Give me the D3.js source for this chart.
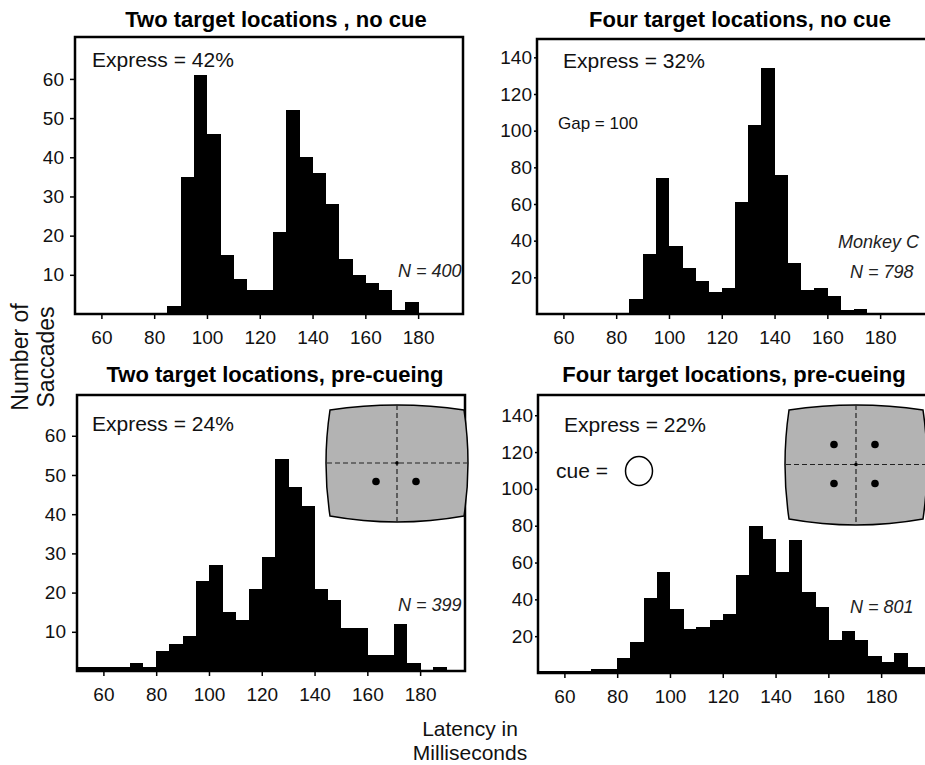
<!DOCTYPE html>
<html>
<head>
<meta charset="utf-8">
<script src="https://cdn.jsdelivr.net/npm/d3@7"></script>
<style>
  body { margin: 0; background: #fff; }
  svg { font-family: "Liberation Sans", Arial, Helvetica, sans-serif; }
</style>
</head>
<body>
<svg id="chart" width="925" height="765"></svg>
<script>
// latency bins, 5 ms wide (left edge of each bin)
const binStarts = [50, 55, 60, 65, 70, 75, 80, 85, 90, 95, 100, 105, 110, 115, 120,
                   125, 130, 135, 140, 145, 150, 155, 160, 165, 170, 175, 180, 185, 190, 195];

const countsTwoNoCue  = [0, 0, 0, 0, 0, 0, 0, 2, 35, 61, 46, 15, 9, 6, 6,
                         21, 52, 40, 36, 28, 14, 10, 8, 6, 1, 3, 0, 0, 0, 0];
const countsFourNoCue = [0, 0, 0, 0, 0, 0, 0, 8, 33, 74, 37, 25, 18, 12, 14,
                         61, 103, 134, 76, 28, 13, 14, 10, 2, 3, 0, 0, 0, 0, 0];
const countsTwoPreCue = [1, 1, 1, 1, 2, 1, 5, 7, 9, 23, 27, 15, 13, 21, 29,
                         54, 47, 42, 21, 18, 11, 11, 4, 4, 12, 2, 0, 1, 0, 0];
const countsFourPreCue = [1, 1, 1, 1, 2, 2, 8, 17, 41, 55, 35, 24, 25, 29, 32,
                          53, 80, 73, 55, 72, 44, 36, 18, 23, 18, 9, 6, 11, 3, 3];

const xTicks = [60, 80, 100, 120, 140, 160, 180];
const yTicksTwo = [10, 20, 30, 40, 50, 60];
const yTicksFour = [20, 40, 60, 80, 100, 120, 140];

const titles = ["Two target locations , no cue", "Four target locations, no cue",
                "Two target locations, pre-cueing", "Four target locations, pre-cueing"];
const expressLabels = ["Express = 42%", "Express = 32%", "Express = 24%", "Express = 22%"];
const nLabels = ["N = 400", "N = 798", "N = 399", "N = 801"];

const binWidth = 5;
const xDomain = [50, 197];

const svg = d3.select("#chart");

// frameW > width on the right-hand panels: their right border falls off the page
const panels = [
  { left: 75,  top: 37,  width: 388, frameW: 388, height: 277, counts: countsTwoNoCue,  yMax: 70.7, yTicks: yTicksTwo,
    tick: 5, pad: 6, titleX: 276, titleY: 27, expX: 92, expY: 67, nX: 398, nY: 277 },
  { left: 537, top: 39,  width: 388, frameW: 392, height: 275, counts: countsFourNoCue, yMax: 150, yTicks: yTicksFour,
    tick: 3, pad: 2, titleX: 740, titleY: 27, expX: 563, expY: 68, nX: 850, nY: 278 },
  { left: 77,  top: 395, width: 388, frameW: 388, height: 276, counts: countsTwoPreCue, yMax: 70.4, yTicks: yTicksTwo,
    tick: 5, pad: 6, titleX: 275, titleY: 382, expX: 92, expY: 431, nX: 398, nY: 611 },
  { left: 538, top: 395, width: 388, frameW: 392, height: 278, counts: countsFourPreCue, yMax: 151, yTicks: yTicksFour,
    tick: 3, pad: 2, titleX: 734, titleY: 382, expX: 564, expY: 432, nX: 850, nY: 613 }
];

panels.forEach((p, i) => {
  const x = d3.scaleLinear().domain(xDomain).range([0, p.width]);
  const y = d3.scaleLinear().domain([0, p.yMax]).range([p.height, 0]);

  const g = svg.append("g").attr("transform", `translate(${p.left},${p.top})`);

  g.append("clipPath").attr("id", "clip" + i)
    .append("rect").attr("width", p.frameW).attr("height", p.height);

  // bars
  g.append("g").attr("clip-path", `url(#clip${i})`)
    .selectAll("rect")
    .data(binStarts.map((b, k) => ({ start: b, count: p.counts[k] })).filter(d => d.count > 0))
    .enter().append("rect")
      .attr("x", d => x(d.start))
      .attr("width", d => x(d.start + binWidth) - x(d.start) + 0.5)
      .attr("y", d => y(d.count))
      .attr("height", d => p.height - y(d.count))
      .attr("fill", "#000")
      .attr("shape-rendering", "crispEdges");

  // axes
  const xAxis = d3.axisBottom(x).tickValues(xTicks).tickSize(5).tickPadding(12).tickSizeOuter(0);
  const xg = g.append("g").attr("transform", `translate(0,${p.height})`).call(xAxis);
  const yAxis = d3.axisLeft(y).tickValues(p.yTicks).tickSize(p.tick).tickPadding(p.pad).tickSizeOuter(0);
  const yg = g.append("g").call(yAxis);
  [xg, yg].forEach(a => {
    a.select(".domain").remove();
    a.selectAll("line").attr("stroke", "#000").attr("stroke-width", 1.5);
    a.selectAll("text").attr("font-size", 19).attr("fill", "#111");
  });

  // frame
  g.append("rect")
    .attr("width", p.frameW).attr("height", p.height)
    .attr("fill", "none").attr("stroke", "#000").attr("stroke-width", 2.5);

  svg.append("text").text(titles[i])
    .attr("x", p.titleX).attr("y", p.titleY)
    .attr("text-anchor", "middle").attr("font-weight", "bold").attr("font-size", 22);

  svg.append("text").text(expressLabels[i])
    .attr("x", p.expX).attr("y", p.expY).attr("font-size", 21).attr("fill", "#111");

  svg.append("text").text(nLabels[i])
    .attr("x", p.nX).attr("y", p.nY)
    .attr("font-size", 18).attr("font-style", "italic").attr("fill", "#222");
});

// extra labels
svg.append("text").text("Monkey C")
  .attr("x", 838).attr("y", 248).attr("font-size", 18).attr("font-style", "italic").attr("fill", "#222");
svg.append("text").text("Gap = 100")
  .attr("x", 558).attr("y", 129).attr("font-size", 17).attr("fill", "#111");
svg.append("text").text("cue =")
  .attr("x", 556).attr("y", 478).attr("font-size", 21).attr("fill", "#111");
svg.append("ellipse")
  .attr("cx", 639).attr("cy", 471).attr("rx", 13.5).attr("ry", 14.5)
  .attr("fill", "#fff").attr("stroke", "#000").attr("stroke-width", 1.5);

// screen insets
function drawScreen(x0, y0, w, h, dots) {
  const s = svg.append("g").attr("transform", `translate(${x0},${y0})`);
  const path = d3.path();
  path.moveTo(0, 0);
  path.quadraticCurveTo(w / 2, -10, w, 0);
  path.quadraticCurveTo(w + 8, h / 2, w, h);
  path.quadraticCurveTo(w / 2, h + 12, 0, h);
  path.quadraticCurveTo(-8, h / 2, 0, 0);
  path.closePath();
  s.append("path").attr("d", path.toString())
    .attr("fill", "#b3b3b3").attr("stroke", "#000").attr("stroke-width", 1.5);
  s.append("line").attr("x1", -3).attr("x2", w + 3).attr("y1", h / 2).attr("y2", h / 2)
    .attr("stroke", "#222").attr("stroke-width", 1.2).attr("stroke-dasharray", "5,3");
  s.append("line").attr("x1", w / 2).attr("x2", w / 2).attr("y1", -5).attr("y2", h + 6)
    .attr("stroke", "#222").attr("stroke-width", 1.2).attr("stroke-dasharray", "5,3");
  s.append("circle").attr("cx", w / 2).attr("cy", h / 2).attr("r", 1.8).attr("fill", "#000");
  s.selectAll(".dot").data(dots).enter().append("circle")
    .attr("cx", d => w / 2 + d[0]).attr("cy", d => h / 2 + d[1]).attr("r", 3.8).attr("fill", "#000");
}
drawScreen(330, 410, 134, 106, [[-21, 18.5], [19, 18.5]]);
drawScreen(789, 410, 134, 109, [[-22, -20], [19, -20], [-22, 19], [19, 19]]);

// axis titles
svg.append("text")
  .attr("transform", "translate(28,357) rotate(-90)")
  .attr("text-anchor", "middle").attr("font-size", 23).attr("fill", "#111")
  .text("Number of");
svg.append("text")
  .attr("transform", "translate(54,357) rotate(-90)")
  .attr("text-anchor", "middle").attr("font-size", 23).attr("fill", "#111")
  .text("Saccades");
svg.append("text").text("Latency in")
  .attr("x", 470).attr("y", 736).attr("text-anchor", "middle").attr("font-size", 21).attr("fill", "#111");
svg.append("text").text("Milliseconds")
  .attr("x", 470).attr("y", 760).attr("text-anchor", "middle").attr("font-size", 21).attr("fill", "#111");
</script>
</body>
</html>
